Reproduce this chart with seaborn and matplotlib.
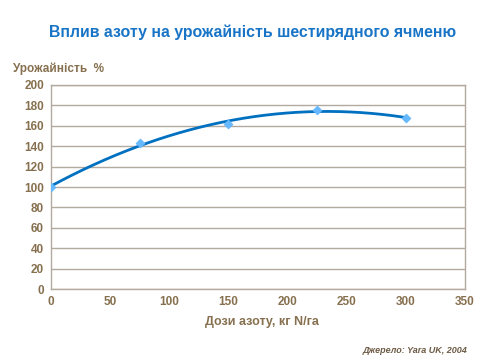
import numpy as np
import pandas as pd
import matplotlib
matplotlib.use("Agg")
import matplotlib.pyplot as plt
import seaborn as sb

# дози азоту і урожайність
doses = [0, 75, 150, 225, 300]
yields = [100, 143, 162, 175, 168]

title = "Вплив азоту на урожайність шестирядного ячменю"
ylab = "Урожайність  %"
xlab = "Дози азоту, кг N/га"
source = "Джерело: Yara UK, 2004"

df = pd.DataFrame({"dose": doses, "yield": yields})

sb.set_theme(style="white")
plt.rcParams['font.family'] = ['Liberation Sans', 'DejaVu Sans']

txt = "#86704f"
grid = "#b3aa9f"

fig = plt.figure(figsize=(4.8, 3.6), dpi=100)
ax = fig.add_axes([0.106, 0.197, 0.863, 0.567])

# поліноміальна лінія тренду 2-го порядку
coef = np.polyfit(df["dose"], df["yield"], 2)
xs = np.linspace(0, 300, 200)
trend = pd.DataFrame({"dose": xs, "yield": np.polyval(coef, xs)})
sb.lineplot(data=trend, x="dose", y="yield", ax=ax, color="#0070c0", linewidth=2, zorder=3)
sb.scatterplot(data=df, x="dose", y="yield", ax=ax, marker="D", s=22,
               color="#66b8ff", edgecolor="#66b8ff", zorder=4)

ax.set_xlim(0, 350)
ax.set_ylim(0, 200)
ax.set_xticks(range(0, 351, 50))
ax.set_yticks(range(0, 201, 20))
ax.yaxis.grid(True, color=grid, linewidth=1)
ax.set_axisbelow(True)
for s in ax.spines.values():
    s.set_color(grid)
    s.set_linewidth(1)
ax.tick_params(length=0, labelsize=8.5, labelcolor=txt, pad=5)
for lb in ax.get_xticklabels() + ax.get_yticklabels():
    lb.set_fontweight("bold")
ax.set_xlabel("")
ax.set_ylabel("")

fig.text(0.527, 0.91, title, ha="center", va="center", fontsize=11.4,
         fontweight="bold", color="#1874c6")
fig.text(0.027, 0.81, ylab, ha="left", va="center", fontsize=8.5,
         fontweight="bold", color=txt)
fig.text(0.545, 0.105, xlab, ha="center", va="center", fontsize=9,
         fontweight="bold", color=txt)
fig.text(0.973, 0.027, source, ha="right", va="center", fontsize=6.5,
         fontweight="bold", fontstyle="italic", color="#6e5b45")

fig.savefig("out.png", dpi=100)
